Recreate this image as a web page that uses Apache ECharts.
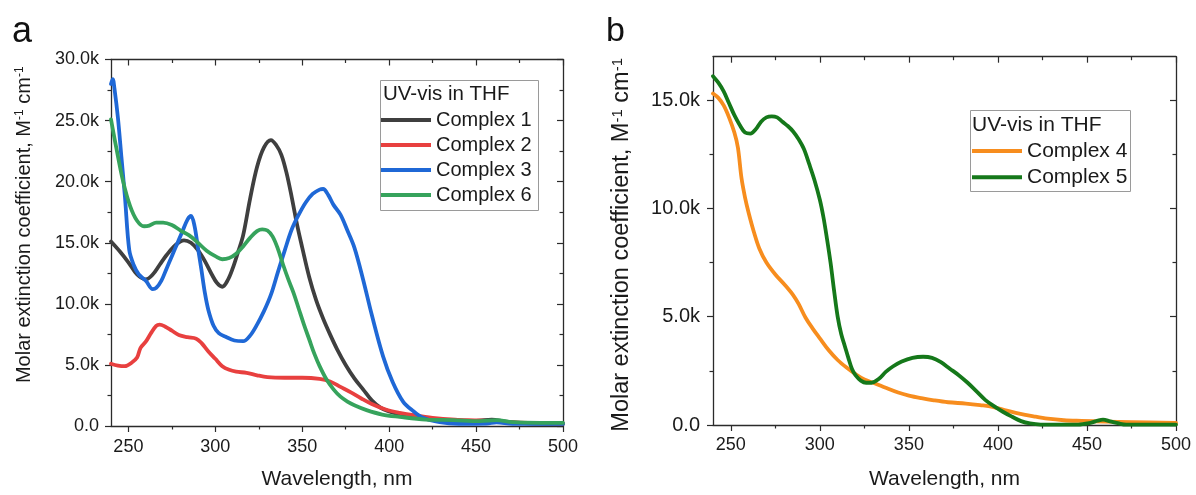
<!DOCTYPE html>
<html>
<head>
<meta charset="utf-8">
<script src="https://cdn.jsdelivr.net/npm/echarts@6/dist/echarts.min.js"></script>
<style>
html,body{margin:0;padding:0;background:#fff;}
#chart{width:1196px;height:495px;}
</style>
</head>
<body>
<div id="chart"></div>
<script>
// ---------- DATA (molar extinction coefficient in thousands, M^-1 cm^-1) ----------
const xTicks = [250, 300, 350, 400, 450, 500];
const xMinorTicks = [275, 325, 375, 425, 475];
const yTicksA = [0, 5, 10, 15, 20, 25, 30];
const yMinorA = [2.5, 7.5, 12.5, 17.5, 22.5, 27.5];
const yTicksB = [0, 5, 10, 15];
const yMinorB = [2.5, 7.5, 12.5];

const namesA = ['Complex 1', 'Complex 2', 'Complex 3', 'Complex 6'];
const namesB = ['Complex 4', 'Complex 5'];

const wl1 = [240,245,250,255,260,264,268,272,277,282,286,290,294,298,301,304,307,310,313,316,320,324,328,332,335,338,341,344,347,350,354,358,362,366,370,375,380,385,390,395,400,406,415,430,450,459,467,480,500];
const c1  = [15.1,14.3,13.4,12.4,12.0,12.4,13.2,14.0,14.8,15.2,15.0,14.4,13.5,12.4,11.7,11.4,11.9,12.9,14.2,15.6,18.6,21.2,22.8,23.4,23.0,22.2,20.7,18.7,16.5,14.6,12.2,10.3,8.8,7.5,6.3,5.0,3.9,3.0,2.1,1.5,1.2,0.95,0.67,0.5,0.42,0.53,0.35,0.22,0.18];

const wl2 = [240,244,248,252,255,257,260,263,266,268,271,275,279,284,289,292,296,300,304,308,312,318,324,330,340,350,360,366,372,378,384,390,398,406,415,425,438,452,464,480,500];
const c2  = [5.1,4.95,4.9,5.2,5.6,6.4,6.9,7.6,8.2,8.3,8.15,7.8,7.45,7.27,7.15,6.8,6.1,5.5,4.9,4.6,4.45,4.35,4.15,4.0,3.95,3.95,3.86,3.65,3.2,2.75,2.25,1.8,1.35,1.08,0.86,0.67,0.53,0.45,0.34,0.26,0.2];

const wl3 = [240,241,242,244,246,248,250.5,253,256,260,264,266,269,272,275,278,281,284,286,288,290,292,294,296,299,302,306,311,316,320,324,328,332,336,340,344,348,352,356,360,362,365,368,372,376,380,385,390,396.5,402,408,414,419.5,429,440,456,461.7,471,500];
const c3  = [28.0,28.4,27.6,25.2,22.0,18.8,14.4,13.2,12.4,11.9,11.2,11.3,11.9,12.9,13.9,14.9,15.9,16.9,17.2,16.4,14.6,12.8,10.9,9.5,8.2,7.6,7.3,7.0,6.94,7.4,8.3,9.4,10.75,12.6,14.4,16.1,17.3,18.3,19.0,19.35,19.4,18.9,18.1,17.3,16.0,14.6,12.0,9.1,5.7,3.6,2.0,1.2,0.67,0.31,0.18,0.2,0.3,0.18,0.18];

const wl6 = [240,243,247,251,255,259,262,266,270,275,280,285,290,295,300,304,308,312,316,320,324,327,330,333,336,339,342,345,348,351,354,357,360,364,368,372,376,380,387,396,406,421,437,452,461.7,471,487,500];
const c6  = [25.1,22.8,20.0,18.0,16.8,16.35,16.4,16.65,16.65,16.45,16.0,15.6,15.0,14.35,13.9,13.65,13.75,14.1,14.7,15.4,15.95,16.1,16.0,15.5,14.5,13.2,12.0,10.9,9.6,8.3,7.1,5.9,4.9,3.8,3.0,2.4,2.0,1.7,1.3,0.94,0.75,0.53,0.48,0.4,0.48,0.31,0.26,0.26];

const wl4 = [240,243,246,249,252,254,256,258,260,263,266,270,275,280,285,288,292,296,300,305,310,315,320,325,331,337,344,350,357,364,372,382,390,397,405,410,420,428,437,447,460,475,500];
const c4  = [15.3,15.1,14.75,14.2,13.5,12.8,11.4,10.5,9.8,8.9,8.15,7.5,6.95,6.5,6.0,5.6,4.95,4.45,4.0,3.45,3.0,2.65,2.35,2.1,1.92,1.72,1.5,1.36,1.24,1.14,1.05,0.99,0.92,0.84,0.66,0.56,0.4,0.29,0.22,0.19,0.16,0.13,0.1];

const wl5 = [240,243,246,249,252,255,258,261,264,267,270,273,276,279,282,285,288,291,294,297,300,302,304,306,308,310,312,314,316,318,320,323,326,329,333,337,341,346,352,358,363,368,373,378,383,388,393,398,403,408,413,418,424,445,452,456,459,463,468,472,500];
const c5  = [16.1,15.8,15.4,14.85,14.3,13.85,13.5,13.45,13.65,14.0,14.2,14.25,14.2,14.0,13.8,13.55,13.2,12.75,12.05,11.3,10.4,9.6,8.6,7.5,6.2,5.0,4.2,3.65,3.1,2.6,2.3,2.05,1.95,1.95,2.12,2.45,2.7,2.93,3.1,3.15,3.1,2.9,2.6,2.3,1.95,1.55,1.15,0.86,0.6,0.38,0.18,0.07,0.02,0.02,0.1,0.2,0.25,0.17,0.07,0.02,0.02];

// ---------- STYLE ----------
const FONT = '"Liberation Sans", Arial, sans-serif';
const AX = '#2b2b2b';
const TXT = '#1a1a1a';
const colors = {
  'Complex 1': '#3f3f3f',
  'Complex 2': '#e8403f',
  'Complex 3': '#1f68d6',
  'Complex 6': '#36a35c',
  'Complex 4': '#f78d1e',
  'Complex 5': '#15781a'
};

function zip(xs, ys) { return xs.map((x, i) => [x, ys[i]]); }

function kfmt(v) { return v === 0 ? '0.0' : v.toFixed(1) + 'k'; }

function xAxesFor(g, labelCfg, nameCfg) {
  const base = { type: 'value', gridIndex: g, min: 240, max: 500, splitLine: { show: false } };
  const line = { show: true, onZero: false, lineStyle: { color: AX, width: 1.3 } };
  return [
    Object.assign({}, base, {
      position: 'bottom', axisLine: line,
      axisTick: { show: true, customValues: xTicks, length: 6, lineStyle: { color: AX, width: 1.2 } },
      axisLabel: Object.assign({ customValues: xTicks, color: TXT, fontFamily: FONT }, labelCfg),
      name: 'Wavelength, nm', nameLocation: 'middle',
      nameGap: nameCfg.gap,
      nameTextStyle: { fontSize: nameCfg.size, color: TXT, fontFamily: FONT }
    }),
    Object.assign({}, base, {
      position: 'bottom', axisLine: { show: false, onZero: false },
      axisTick: { show: true, customValues: xMinorTicks, length: 3.5, lineStyle: { color: AX, width: 1.2 } },
      axisLabel: { show: false }
    }),
    Object.assign({}, base, {
      position: 'top', axisLine: line,
      axisTick: { show: true, inside: true, customValues: xTicks, length: 6, lineStyle: { color: AX, width: 1.2 } },
      axisLabel: { show: false }
    }),
    Object.assign({}, base, {
      position: 'top', axisLine: { show: false, onZero: false },
      axisTick: { show: true, inside: true, customValues: xMinorTicks, length: 3.5, lineStyle: { color: AX, width: 1.2 } },
      axisLabel: { show: false }
    })
  ];
}

function yAxesFor(g, max, majors, minors, labelCfg, nameCfg) {
  const base = { type: 'value', gridIndex: g, min: 0, max: max, splitLine: { show: false } };
  const line = { show: true, onZero: false, lineStyle: { color: AX, width: 1.3 } };
  return [
    Object.assign({}, base, {
      position: 'left', axisLine: line,
      axisTick: { show: true, customValues: majors, length: 6, lineStyle: { color: AX, width: 1.2 } },
      axisLabel: Object.assign({ customValues: majors, color: TXT, fontFamily: FONT, formatter: kfmt }, labelCfg),
      name: 'Molar extinction coefficient, M{s|-1} cm{s|-1}',
      nameLocation: 'middle', nameRotate: 90, nameGap: nameCfg.gap,
      nameTextStyle: {
        fontSize: nameCfg.size, color: TXT, fontFamily: FONT, padding: nameCfg.padding,
        rich: { s: { fontSize: Math.round(nameCfg.size * 0.62), color: TXT, fontFamily: FONT, verticalAlign: 'top', lineHeight: nameCfg.size } }
      }
    }),
    Object.assign({}, base, {
      position: 'left', axisLine: { show: false, onZero: false },
      axisTick: { show: true, customValues: minors, length: 3.5, lineStyle: { color: AX, width: 1.2 } },
      axisLabel: { show: false }
    }),
    Object.assign({}, base, {
      position: 'right', axisLine: line,
      axisTick: { show: true, inside: true, customValues: majors, length: 6, lineStyle: { color: AX, width: 1.2 } },
      axisLabel: { show: false }
    }),
    Object.assign({}, base, {
      position: 'right', axisLine: { show: false, onZero: false },
      axisTick: { show: true, inside: true, customValues: minors, length: 3.5, lineStyle: { color: AX, width: 1.2 } },
      axisLabel: { show: false }
    })
  ];
}

function lineSeries(name, xi, yi, xs, ys) {
  return {
    name: name, type: 'line', xAxisIndex: xi, yAxisIndex: yi,
    data: zip(xs, ys), showSymbol: false, symbol: 'none',
    smooth: 0.35,
    lineStyle: { width: 3.8, color: colors[name], join: 'round', cap: 'round' },
    itemStyle: { color: colors[name] },
    emphasis: { disabled: true }, animation: false
  };
}

const chart = echarts.init(document.getElementById('chart'), null, { renderer: 'canvas' });

const option = {
  animation: false,
  backgroundColor: '#ffffff',
  textStyle: { fontFamily: FONT },
  grid: [
    { left: 111, top: 59.5, width: 452, height: 367 },
    { left: 713, top: 56.7, width: 463, height: 375.6 }
  ],
  xAxis: [].concat(
    xAxesFor(0, { fontSize: 18, margin: 12 }, { gap: 43, size: 21 }),
    xAxesFor(1, { fontSize: 18, margin: 11.5 }, { gap: 44, size: 21 })
  ),
  yAxis: [].concat(
    yAxesFor(0, 30, yTicksA, yMinorA, { fontSize: 18, margin: 12 }, { gap: 77, size: 20, padding: [0, 0, 0, 36] }),
    yAxesFor(1, 17, yTicksB, yMinorB, { fontSize: 20, margin: 13 }, { gap: 79, size: 23.5, padding: [0, 8, 0, 0] })
  ),
  legend: [
    {
      data: namesA, orient: 'vertical', left: 381, top: 110, padding: 0, itemGap: 5,
      icon: 'rect', itemWidth: 50, itemHeight: 4, selectedMode: false,
      textStyle: { fontSize: 20, lineHeight: 20, color: TXT, fontFamily: FONT }
    },
    {
      data: namesB, orient: 'vertical', left: 972, top: 140.5, padding: 0, itemGap: 5.3,
      icon: 'rect', itemWidth: 50, itemHeight: 4, selectedMode: false,
      textStyle: { fontSize: 21, lineHeight: 20, color: TXT, fontFamily: FONT }
    }
  ],
  graphic: [
    { type: 'rect', shape: { x: 380.5, y: 80.5, width: 158, height: 130 }, style: { fill: 'rgba(255,255,255,0)', stroke: '#9a9a9a', lineWidth: 1 }, silent: true },
    { type: 'text', x: 383, y: 94, style: { text: 'UV-vis in THF', fontSize: 20.5, fontFamily: FONT, fill: TXT, verticalAlign: 'middle' }, silent: true },
    { type: 'rect', shape: { x: 970.5, y: 110.5, width: 160, height: 81 }, style: { fill: 'rgba(255,255,255,0)', stroke: '#9a9a9a', lineWidth: 1 }, silent: true },
    { type: 'text', x: 972, y: 125, style: { text: 'UV-vis in THF', fontSize: 21, fontFamily: FONT, fill: TXT, verticalAlign: 'middle' }, silent: true },
    { type: 'text', x: 12, y: 32, style: { text: 'a', fontSize: 36, fontFamily: FONT, fill: '#111', verticalAlign: 'middle' }, silent: true },
    { type: 'text', x: 606, y: 32, style: { text: 'b', fontSize: 34, fontFamily: FONT, fill: '#111', verticalAlign: 'middle' }, silent: true }
  ],
  series: [
    lineSeries('Complex 1', 0, 0, wl1, c1),
    lineSeries('Complex 2', 0, 0, wl2, c2),
    lineSeries('Complex 3', 0, 0, wl3, c3),
    lineSeries('Complex 6', 0, 0, wl6, c6),
    lineSeries('Complex 4', 4, 4, wl4, c4),
    lineSeries('Complex 5', 4, 4, wl5, c5)
  ]
};

chart.setOption(option);
</script>
</body>
</html>
